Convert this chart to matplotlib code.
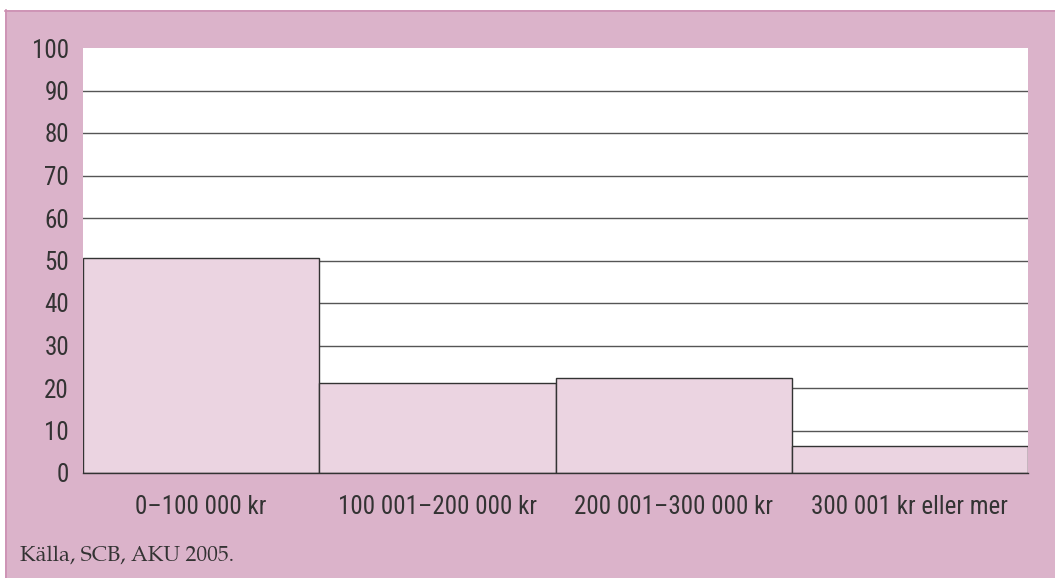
import matplotlib
matplotlib.use("Agg")
import matplotlib.pyplot as plt
from matplotlib import font_manager
from matplotlib.patches import Rectangle

categories = ["0\u2013100 000 kr", "100 001\u2013200 000 kr", "200 001\u2013300 000 kr", "300 001 kr eller mer"]
values = [50.6, 21.2, 22.4, 6.3]
yticks = [0, 10, 20, 30, 40, 50, 60, 70, 80, 90, 100]
source = "Källa, SCB, AKU 2005."

names = {f.name for f in font_manager.fontManager.ttflist}


def pick(cands, default):
    for c in cands:
        if c in names:
            return c
    return default


cond = pick(["Roboto Condensed", "Archivo Narrow", "PT Sans Narrow", "Pragati Narrow",
             "IBM Plex Sans Condensed", "Fira Sans Condensed"], "DejaVu Sans")
serif = pick(["TeX Gyre Pagella", "Palatino Linotype", "URW Palladio L", "P052",
              "Crimson Text", "Liberation Serif"], "DejaVu Serif")

W, H = 1055, 578
fig = plt.figure(figsize=(W / 100, H / 100), dpi=100)
fig.patch.set_facecolor("white")

bg = "#dbb3ca"
border = "#cc8fb2"
# background panel axes
bax = fig.add_axes([0, 0, 1, 1], zorder=-5)
bax.set_xlim(0, W)
bax.set_ylim(H, 0)
bax.axis("off")
bax.add_patch(Rectangle((5, 10), W - 5, H - 10, facecolor=bg, edgecolor="none"))
bax.plot([5, W], [10.5, 10.5], color=border, lw=1.2)
bax.plot([5.5, 5.5], [10, H], color=border, lw=1.2)
bax.text(20, 556, source, fontsize=15.5, family=serif, color="#333333",
         va="center", ha="left")

left, right, top, bottom = 83, 1028, 48, 473
ax = fig.add_axes([left / W, 1 - bottom / H, (right - left) / W, (bottom - top) / H], zorder=1)
ax.set_facecolor("white")

x = list(range(len(categories)))
ax.bar(x, values, width=1.0, align="center", color="#ebd4e1", edgecolor="#333333",
       linewidth=1.0, zorder=3)
for t in yticks[1:-1]:
    ax.axhline(t, color="#555555", lw=1.0, zorder=1)

ax.set_xlim(-0.5, len(categories) - 0.5)
ax.set_ylim(0, 100)
ax.set_yticks(yticks)
ax.set_yticklabels([str(t) for t in yticks], fontsize=18, family=cond, color="#333333")
ax.set_xticks(x)
ax.set_xticklabels(categories, fontsize=18, family=cond, color="#333333")
ax.tick_params(axis="both", length=0)
ax.tick_params(axis="y", pad=10)
ax.tick_params(axis="x", pad=16)
for s in ["top", "right", "left"]:
    ax.spines[s].set_visible(False)
ax.spines["bottom"].set_color("#333333")
ax.spines["bottom"].set_linewidth(1.0)
ax.spines["bottom"].set_zorder(4)

fig.savefig("out.png", dpi=100, facecolor=fig.get_facecolor())
